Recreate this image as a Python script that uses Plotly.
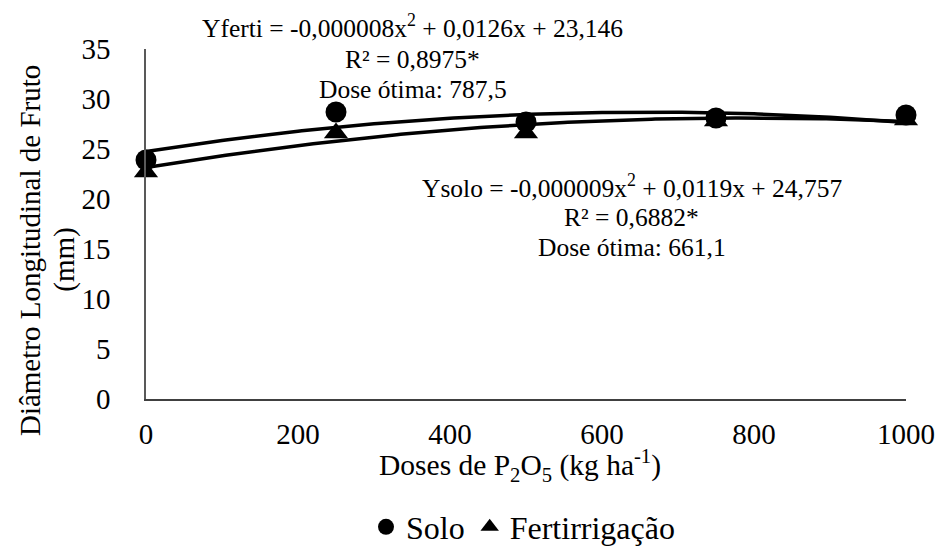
import numpy as np
import plotly.graph_objects as go

# ---- data ----
doses = [0, 250, 500, 750, 1000]
solo = [23.9, 28.7, 27.7, 28.1, 28.4]
ferti = [22.7, 26.6, 26.6, 27.8, 27.9]

# regression coefficients shown on the chart (a*x^2 + b*x + c)
coef_solo = [-0.000009, 0.0119, 24.757]
coef_ferti = [-0.000008, 0.0126, 23.146]

x_ticks = [0, 200, 400, 600, 800, 1000]
y_ticks = [0, 5, 10, 15, 20, 25, 30, 35]

FONT = "Liberation Serif"

xs = np.linspace(0, 1000, 201)
fit_solo = np.polyval(coef_solo, xs)
fit_ferti = np.polyval(coef_ferti, xs)

fig = go.Figure()
fig.add_trace(go.Scatter(x=doses, y=solo, mode="markers", name="Solo",
                         marker=dict(symbol="circle", size=21, color="black"),
                         cliponaxis=False))
fig.add_trace(go.Scatter(x=doses, y=ferti, mode="markers", name="Fertirrigação",
                         marker=dict(symbol="triangle-up", size=21, color="black"),
                         cliponaxis=False))
fig.add_trace(go.Scatter(x=xs, y=fit_solo, mode="lines", showlegend=False,
                         line=dict(color="black", width=3.5), cliponaxis=False,
                         hoverinfo="skip"))
fig.add_trace(go.Scatter(x=xs, y=fit_ferti, mode="lines", showlegend=False,
                         line=dict(color="black", width=3.5), cliponaxis=False,
                         hoverinfo="skip"))


def px_x(p):
    return (p - 146) / 767


def px_y(p):
    return (399 - p) / 350


ann_font = dict(family=FONT, size=25.5, color="black")
annotations = [
    dict(x=px_x(415), y=px_y(27), text="Yferti = -0,000008x<sup>2</sup> + 0,0126x + 23,146"),
    dict(x=px_x(415), y=px_y(59), text="R² = 0,8975*"),
    dict(x=px_x(415), y=px_y(89), text="Dose ótima: 787,5"),
    dict(x=px_x(636), y=px_y(187), text="Ysolo = -0,000009x<sup>2</sup> + 0,0119x + 24,757"),
    dict(x=px_x(636), y=px_y(217), text="R² = 0,6882*"),
    dict(x=px_x(636), y=px_y(248), text="Dose ótima: 661,1"),
]
for a in annotations:
    a.update(xref="paper", yref="paper", showarrow=False, font=ann_font,
             xanchor="center", yanchor="middle")

# axis titles
title_font = dict(family=FONT, size=29, color="black")
annotations.append(dict(
    xref="paper", yref="paper", x=px_x(29), y=px_y(251),
    text="Diâmetro Longitudinal de Fruto", textangle=-90,
    showarrow=False, font=title_font, xanchor="center", yanchor="middle"))
annotations.append(dict(
    xref="paper", yref="paper", x=px_x(63), y=px_y(260),
    text="(mm)", textangle=-90,
    showarrow=False, font=title_font, xanchor="center", yanchor="middle"))
annotations.append(dict(
    xref="paper", yref="paper", x=px_x(523), y=px_y(465),
    text="Doses de P<sub>2</sub>O<sub>5</sub> (kg ha<sup>-1</sup>)",
    showarrow=False, font=dict(family=FONT, size=29.5, color="black"),
    xanchor="center", yanchor="middle"))

fig.update_layout(
    width=947, height=549,
    margin=dict(l=146, r=34, t=49, b=150),
    plot_bgcolor="white", paper_bgcolor="white",
    font=dict(family=FONT, size=29, color="black"),
    annotations=annotations,
    showlegend=True,
    legend=dict(orientation="h", xref="container", yref="container",
                x=523 / 947, y=1 - 527 / 549, xanchor="center", yanchor="middle",
                font=dict(family=FONT, size=32, color="black"),
                itemsizing="trace", itemwidth=30, tracegroupgap=0),
)
fig.update_xaxes(range=[0, 1000], tickvals=x_ticks, showgrid=False, zeroline=False,
                 showline=True, linecolor="#404040", linewidth=1.5, ticks="",
                 ticklabelstandoff=8, tickfont=dict(family=FONT, size=29))
fig.update_yaxes(range=[0, 35], tickvals=y_ticks, showgrid=False, zeroline=False,
                 showline=True, linecolor="#595959", linewidth=1.5, ticks="",
                 ticklabelstandoff=28, tickfont=dict(family=FONT, size=29))

fig.write_html("out.html")
